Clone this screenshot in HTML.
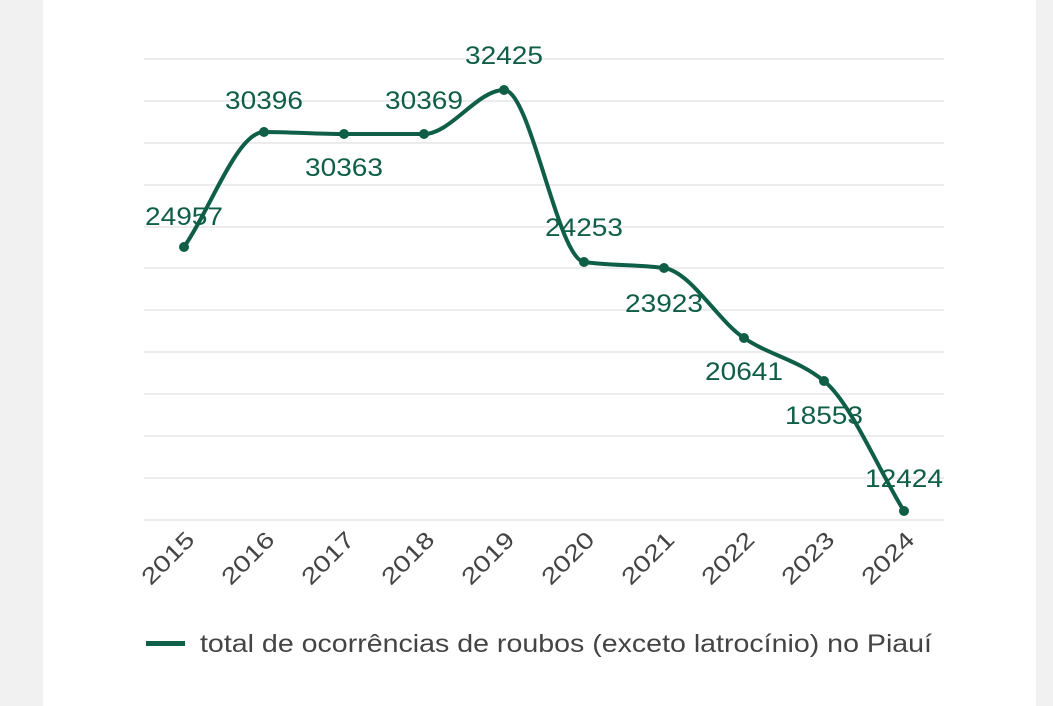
<!DOCTYPE html>
<html><head><meta charset="utf-8"><style>
html,body{margin:0;padding:0;background:#f1f1f1;}
#w{position:absolute;left:43px;top:0;width:993px;height:706px;background:#fff;}
svg{position:absolute;left:0;top:0;}
text{font-family:"Liberation Sans",Roboto,sans-serif;}
</style></head><body>
<div id="w"></div>
<svg id="s" width="1053" height="706" xmlns="http://www.w3.org/2000/svg">
<g stroke="#e6e6e6" stroke-width="1.5">
<line x1="144" x2="944" y1="59" y2="59"/><line x1="144" x2="944" y1="101" y2="101"/>
<line x1="144" x2="944" y1="143" y2="143"/><line x1="144" x2="944" y1="185" y2="185"/>
<line x1="144" x2="944" y1="227" y2="227"/><line x1="144" x2="944" y1="268" y2="268"/>
<line x1="144" x2="944" y1="310" y2="310"/><line x1="144" x2="944" y1="352" y2="352"/>
<line x1="144" x2="944" y1="394" y2="394"/><line x1="144" x2="944" y1="436" y2="436"/>
<line x1="144" x2="944" y1="478" y2="478"/><line x1="144" x2="944" y1="520" y2="520"/>
</g>
<path id="p" fill="none" stroke="#0f5e47" stroke-width="4"/>
<g id="dots" fill="#0f5e47"></g>
<g fill="#0f5e47" font-size="25" text-anchor="middle" id="lbl">
<text x="184" y="225">24957</text><text x="264" y="109">30396</text>
<text x="344" y="176">30363</text><text x="424" y="109">30369</text>
<text x="504" y="64">32425</text><text x="584" y="236">24253</text>
<text x="664" y="312">23923</text><text x="744" y="380">20641</text>
<text x="824" y="424">18553</text><text x="904" y="487">12424</text>
</g>
<g fill="#444" font-size="23" text-anchor="end" id="yrs"></g>
<rect x="146" y="641" width="39" height="5" fill="#0f5e47"/>
<text x="200" y="652" font-size="25" fill="#444" textLength="732" lengthAdjust="spacingAndGlyphs">total de ocorrências de roubos (exceto latrocínio) no Piauí</text>
</svg>
<script>
var xs=[184,264,344,424,504,584,664,744,824,904],ys=[247,132,134,134,90,262,268,338,381,511];
var n=xs.length,d=[],m=[];
for(var i=0;i<n-1;i++)d.push((ys[i+1]-ys[i])/(xs[i+1]-xs[i]));
for(i=0;i<n;i++){if(i==0)m.push(d[0]);else if(i==n-1)m.push(d[n-2]);else if(d[i-1]*d[i]<=0)m.push(0);else m.push(2/(1/d[i-1]+1/d[i]));}
var s="M"+xs[0]+","+ys[0];
for(i=0;i<n-1;i++){var h=(xs[i+1]-xs[i])/3;s+=" C"+(xs[i]+h)+","+(ys[i]+m[i]*h)+" "+(xs[i+1]-h)+","+(ys[i+1]-m[i+1]*h)+" "+xs[i+1]+","+ys[i+1];}
document.getElementById("p").setAttribute("d",s);
var L=document.querySelectorAll("#lbl text");for(i=0;i<L.length;i++){L[i].setAttribute("textLength","78");L[i].setAttribute("lengthAdjust","spacingAndGlyphs");}
var ns="http://www.w3.org/2000/svg",g=document.getElementById("dots"),y=document.getElementById("yrs");
for(i=0;i<n;i++){var c=document.createElementNS(ns,"circle");c.setAttribute("cx",xs[i]);c.setAttribute("cy",ys[i]);c.setAttribute("r",5);g.appendChild(c);
var t=document.createElementNS(ns,"text");t.setAttribute("transform","translate("+(xs[i]+12)+",541) rotate(-45)");t.setAttribute("textLength","64");t.setAttribute("lengthAdjust","spacingAndGlyphs");t.textContent=2015+i;y.appendChild(t);}
</script>
</body></html>
